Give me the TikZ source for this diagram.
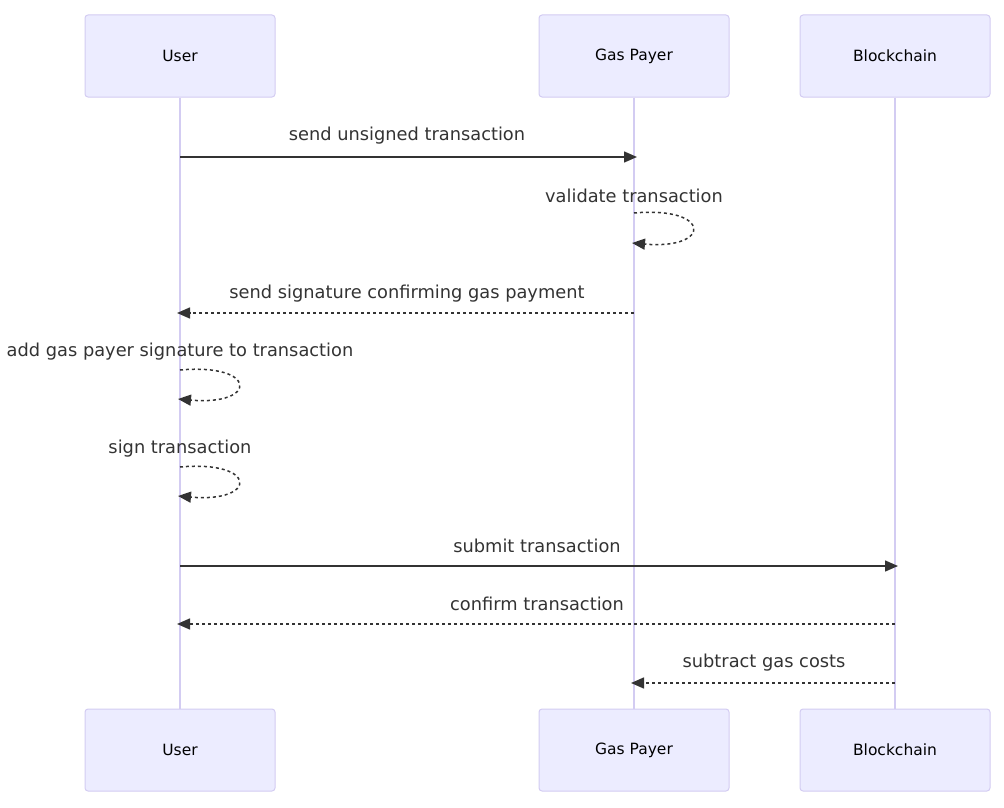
\documentclass[tikz,border=0pt]{standalone}
\usepackage{fontspec}
\setmainfont{DejaVu Sans}
\usetikzlibrary{arrows.meta}
\definecolor{actorfill}{HTML}{ECECFF}
\definecolor{actorline}{HTML}{D3CCF2}
\definecolor{textgray}{HTML}{333333}

\begin{document}
\begin{tikzpicture}[x=1pt,y=-1pt,
  actor/.style={draw=actorline,fill=actorfill,line width=1pt,rounded corners=3pt,
    minimum width=190pt,minimum height=82pt,inner sep=0pt,
    font=\fontsize{15.5}{18}\selectfont},
  lifeline/.style={actorline,line width=2pt},
  msg/.style={textgray,line width=1.5pt,-{Triangle[length=13pt,width=11pt]}},
  reply/.style={msg,dash pattern=on 3pt off 3pt},
  msgtext/.style={text=textgray,inner sep=0pt,font=\fontsize{17.8}{20}\selectfont}]
\useasboundingbox (0,0) rectangle (1004,808);

% actors
\node[actor] (userTop) at (180,56) {User};
\node[actor] (payerTop) at (634,56) {Gas Payer};
\node[actor] (chainTop) at (895,56) {Blockchain};
\node[actor] (userBot) at (180,750) {User};
\node[actor] (payerBot) at (634,750) {Gas Payer};
\node[actor] (chainBot) at (895,750) {Blockchain};

\draw[lifeline] (userTop) -- (userBot);
\draw[lifeline] (payerTop) -- (payerBot);
\draw[lifeline] (chainTop) -- (chainBot);

% messages
\coordinate (u1) at (180,157);
\coordinate (p1) at (637,157);
\node[msgtext] (sendTx) at (407,136) {send unsigned transaction};
\draw[msg] (u1) -- (p1);

\coordinate (p2a) at (634,213);
\coordinate (p2b) at (632,243);
\node[msgtext] (validate) at (634,196) {validate transaction};
\draw[reply] (p2a) .. controls +(78,-7) and +(80,7) .. (p2b);

\coordinate (p3) at (634,313);
\coordinate (u3) at (177,313);
\node[msgtext] (sendSig) at (407,294) {send signature confirming gas payment};
\draw[reply] (p3) -- (u3);

\coordinate (u4a) at (180,370);
\coordinate (u4b) at (178,399);
\node[msgtext] (addSig) at (180,352) {add gas payer signature to transaction};
\draw[reply] (u4a) .. controls +(78,-7) and +(80,7) .. (u4b);

\coordinate (u5a) at (180,467);
\coordinate (u5b) at (178,496);
\node[msgtext] (signTx) at (180,449) {sign transaction};
\draw[reply] (u5a) .. controls +(78,-7) and +(80,7) .. (u5b);

\coordinate (u6) at (180,566);
\coordinate (c6) at (898,566);
\node[msgtext] (submit) at (537,546) {submit transaction};
\draw[msg] (u6) -- (c6);

\coordinate (c7) at (895,624);
\coordinate (u7) at (177,624);
\node[msgtext] (confirm) at (537,604) {confirm transaction};
\draw[reply] (c7) -- (u7);

\coordinate (c8) at (895,683);
\coordinate (p8) at (631,683);
\node[msgtext] (subtract) at (764,663) {subtract gas costs};
\draw[reply] (c8) -- (p8);
\end{tikzpicture}
\end{document}
